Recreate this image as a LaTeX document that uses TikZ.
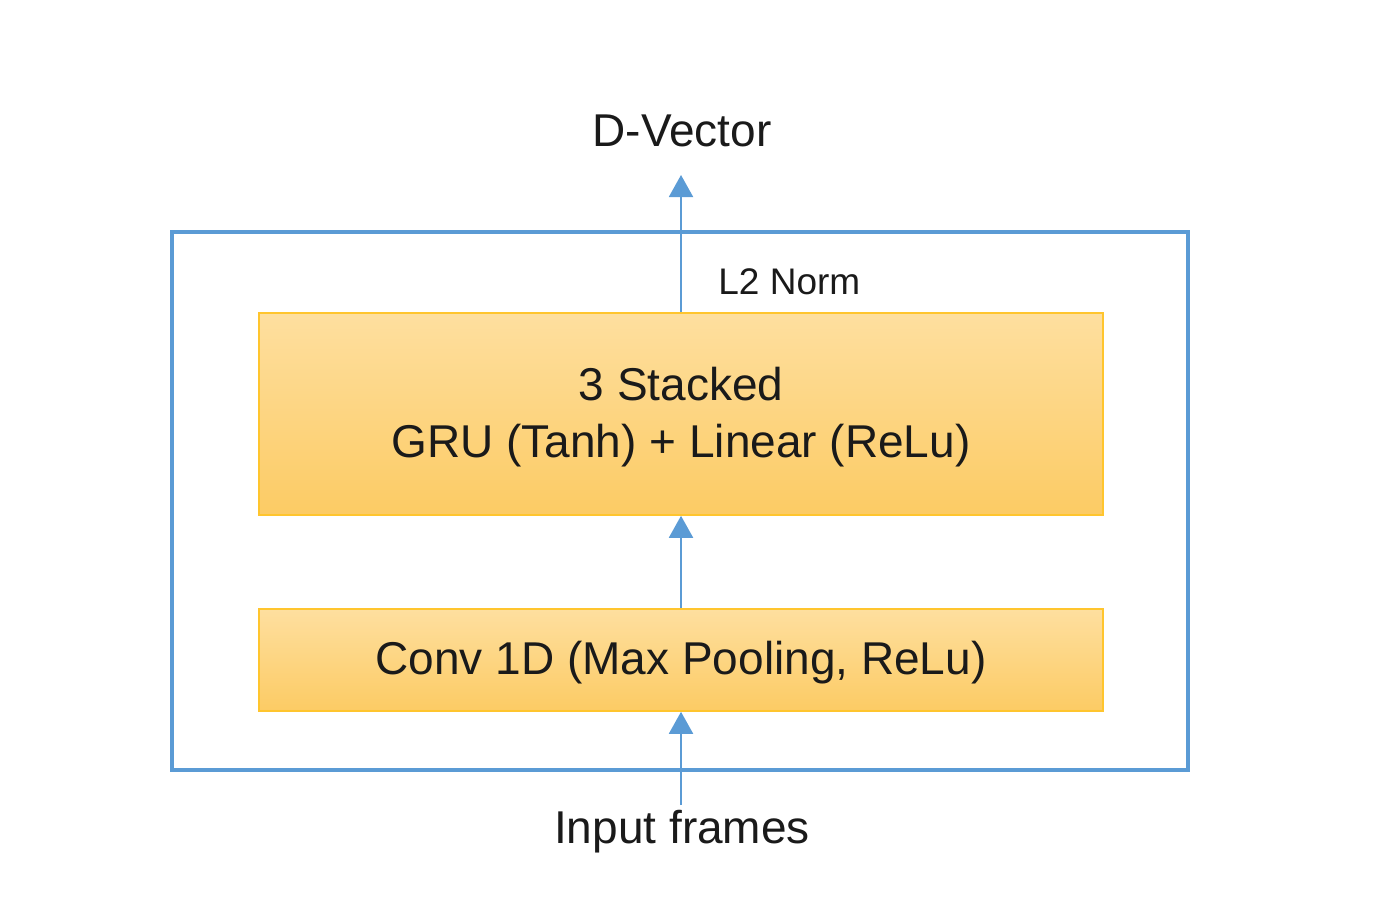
\documentclass[tikz,border=0pt]{standalone}
\usepackage{fontspec}
\setmainfont{Liberation Sans}
\usetikzlibrary{arrows.meta}
\definecolor{frameblue}{HTML}{5B9BD5}
\definecolor{boxtop}{HTML}{FEDF9F}
\definecolor{boxbot}{HTML}{FCCB64}
\definecolor{boxline}{HTML}{FFC52E}
\definecolor{txt}{HTML}{1A1A1A}
\tikzset{
  layerbox/.style={rectangle, draw=boxline, line width=0.8pt, top color=boxtop, bottom color=boxbot,
    minimum width=422pt, inner sep=0pt, align=center, text=txt, font=\fontsize{23pt}{28.5pt}\selectfont},
  outerbox/.style={rectangle, draw=frameblue, line width=1.7pt, minimum width=508pt, minimum height=269pt, inner sep=0pt},
  flow/.style={draw=frameblue, line width=1pt, -{Triangle[width=12pt,length=11pt]}},
  label/.style={text=txt, inner sep=0pt, font=\fontsize{23pt}{27pt}\selectfont}
}
\begin{document}
\begin{tikzpicture}[x=0.5pt,y=-0.5pt]
\useasboundingbox (0,0) rectangle (1400,910);
\node[outerbox] (outer) at (680,501) {};
\node[layerbox, minimum height=101pt] (gru) at (681,414) {};
\node[layerbox, minimum height=51pt] (conv) at (681,660) {};
\node[text=txt, inner sep=0pt, align=center, font=\fontsize{23pt}{28.5pt}\selectfont] (grutext) at (681,417) {3 Stacked\\GRU (Tanh) + Linear (ReLu)};
\node[label] (convtext) at (681,663) {Conv 1D (Max Pooling, ReLu)};
\node[label] (dv) at (682,131) {D-Vector};
\node[label] (inp) at (682,832) {Input frames};
\node[text=txt, inner sep=0pt, anchor=west, font=\fontsize{18.5pt}{22pt}\selectfont] (l2) at (718,282) {L2 Norm};
\coordinate (dvtip) at (681,175);
\coordinate (inptail) at (681,805);
\draw[flow] (gru.north) -- (dvtip);
\draw[flow] (conv.north) -- (gru.south);
\draw[flow] (inptail) -- (conv.south);
\end{tikzpicture}
\end{document}
